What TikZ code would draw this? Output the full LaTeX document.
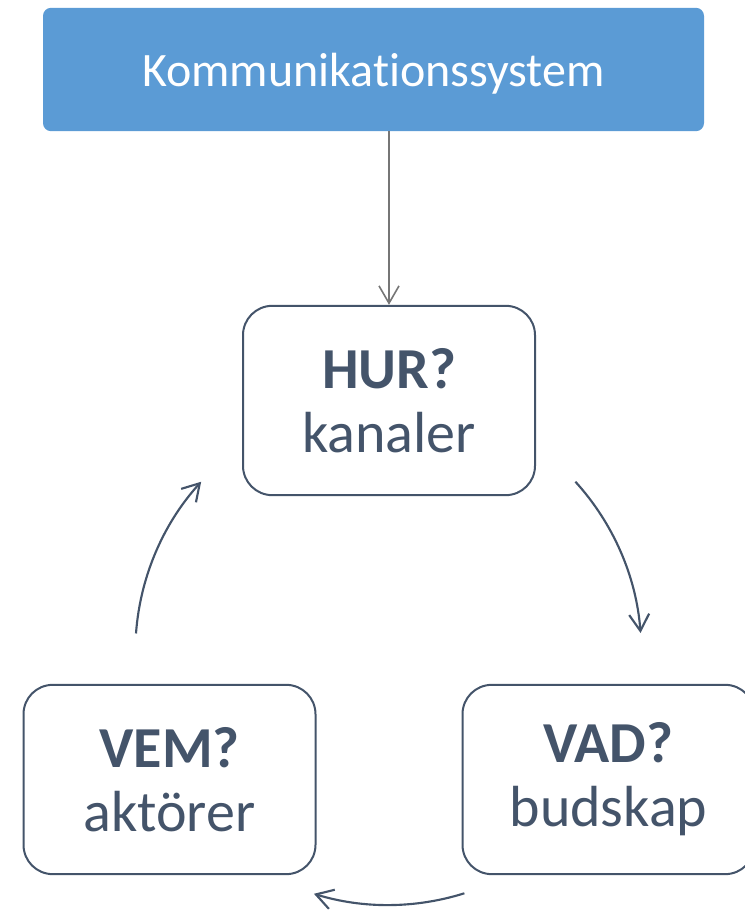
\documentclass[tikz,border=0pt]{standalone}
\usepackage{fontspec}
\setmainfont{Carlito}[Ligatures=CommonOff]
\usetikzlibrary{arrows.meta}
\definecolor{slate}{HTML}{44546A}
\definecolor{skyblue}{HTML}{5B9BD5}
\definecolor{feedgray}{HTML}{767676}

\begin{document}
\begin{tikzpicture}[
  x=0.75pt,y=0.75pt,
  head/.style={rectangle,rounded corners=6pt,fill=skyblue,text=white,inner sep=0pt,
    text depth=0pt,minimum width=495.75pt,minimum height=92.5pt,
    font=\fontsize{36}{40}\selectfont},
  box/.style={draw=slate,rectangle,rounded corners=22pt,align=center,text=slate,
    inner sep=0pt,line width=1.5pt,minimum width=219pt,minimum height=142pt,
    font=\fontsize{43.5}{48}\selectfont},
  feed/.style={-{Straight Barb[length=13pt,width=15pt]},draw=feedgray,line width=1.2pt},
  cyc/.style={-{Straight Barb[length=12.5pt,width=15pt]},draw=slate,line width=1.6pt}
]
  % Frame of 745 x 910 px; the right box runs past the edge.
  \useasboundingbox (0,0) rectangle (745,910);
  \clip (0,0) rectangle (745,910);

  \node[head] (sys) at (373.5,840.5) {Kommunikationssystem};

  \node[box] (hur) at (389,509.5) {\textbf{HUR?}\\kanaler};
  \node[box] (vem) at (169.5,130.5) {\textbf{VEM?}\\aktörer};
  \node[box] (vad) at (608.5,130.5) {\textbf{VAD?}\\budskap};

  \draw[feed] (hur.north |- sys.south) -- (hur.north);

  % cycle arcs on one circle round the three boxes
  \coordinate (mid) at (388.3,258);
  \draw[cyc] (mid) ++(42.3:253) arc[start angle=42.3,end angle=4.3,radius=253];
  \draw[cyc] (mid) ++(-72.5:253) arc[start angle=-72.5,end angle=-107.1,radius=253];
  \draw[cyc] (mid) ++(175.8:253) arc[start angle=175.8,end angle=137.7,radius=253];
\end{tikzpicture}
\end{document}
